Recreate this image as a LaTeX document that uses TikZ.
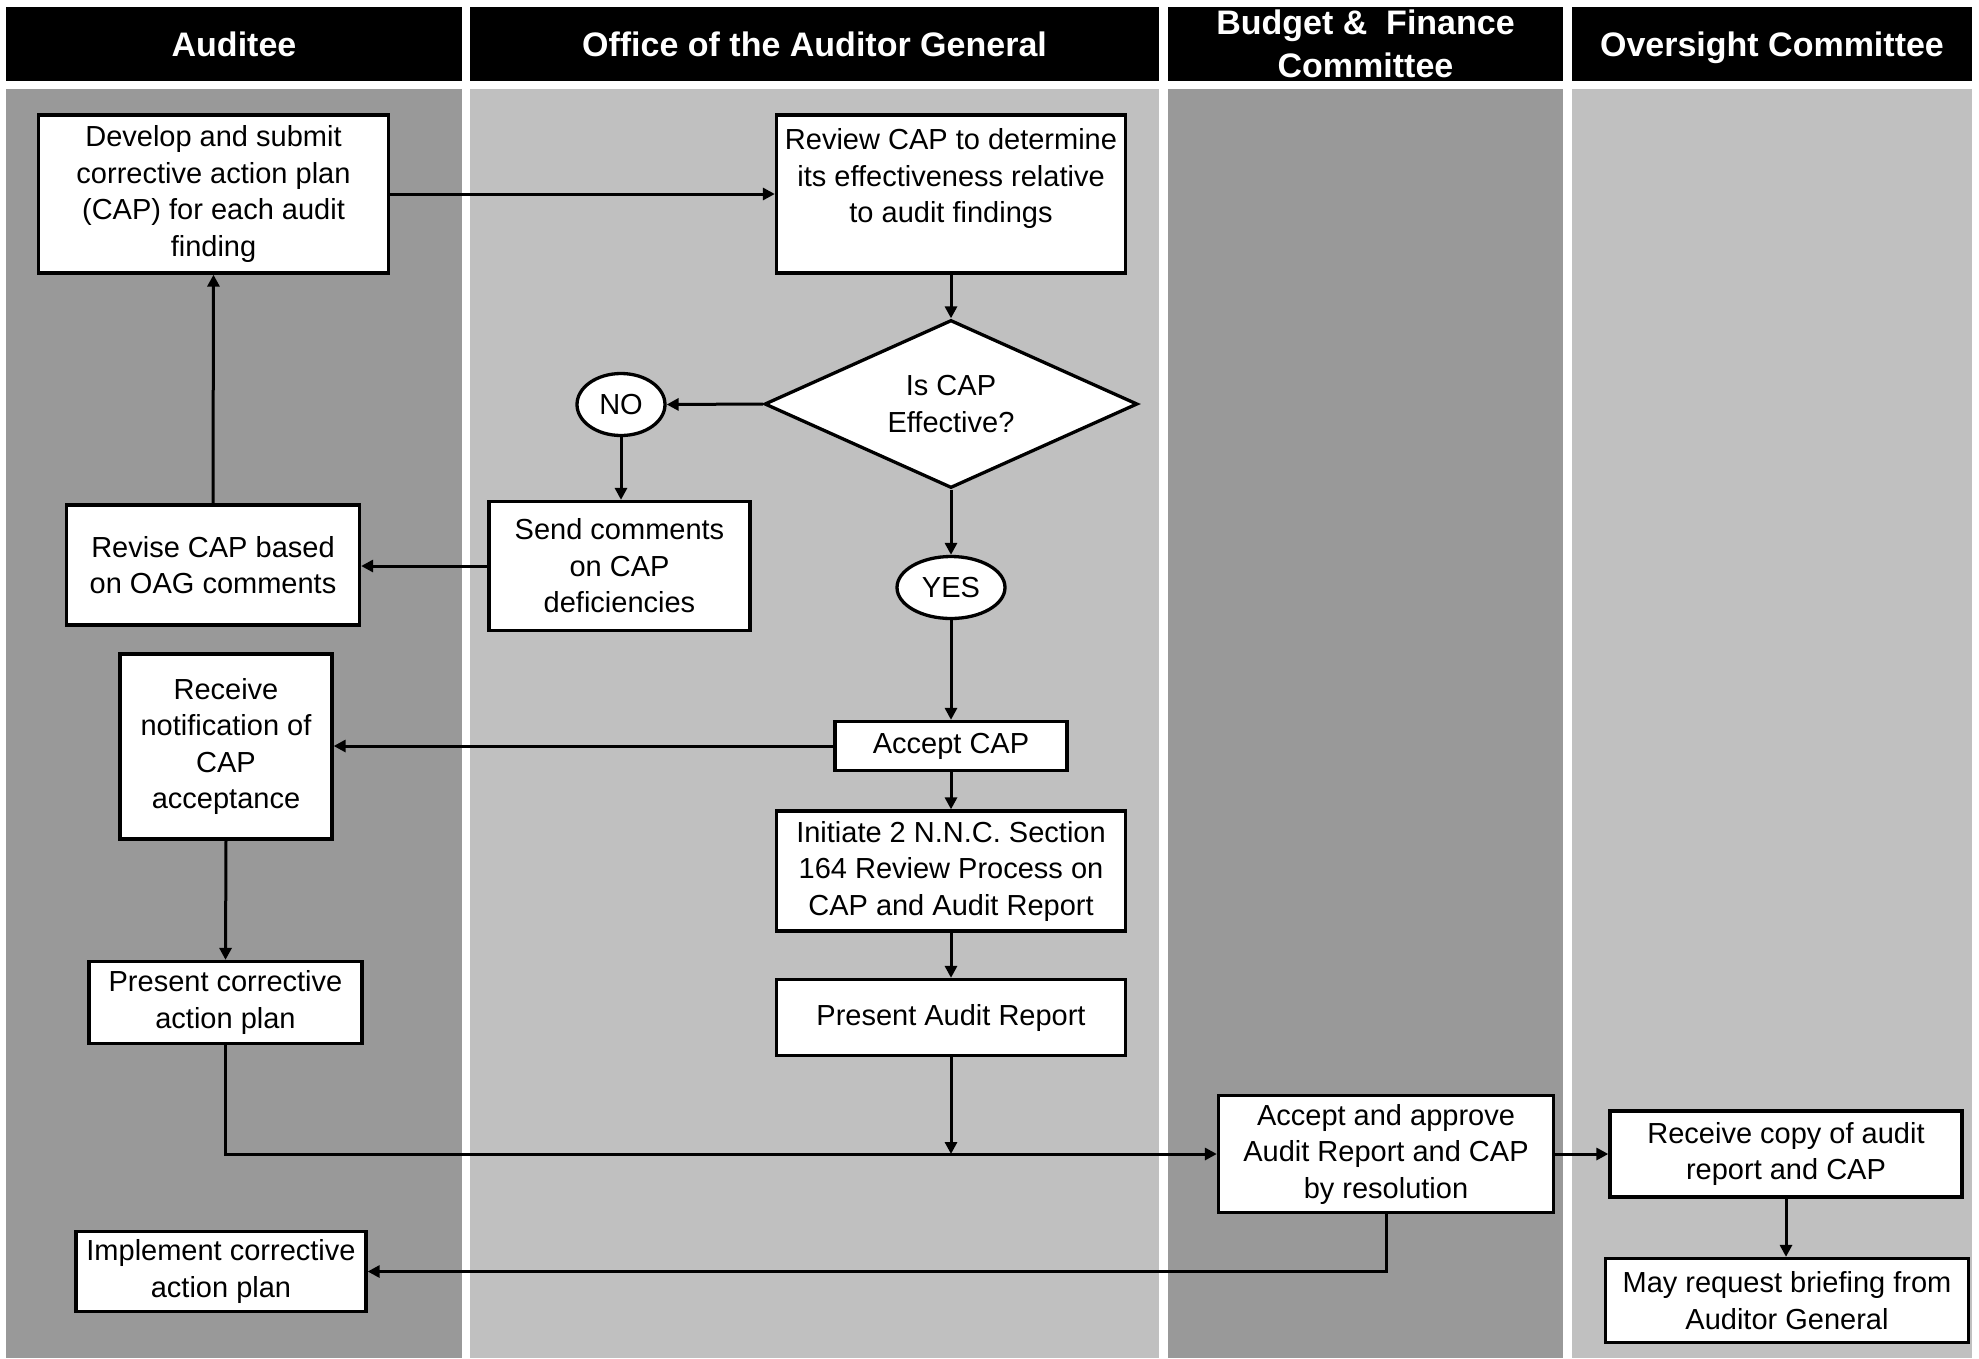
\documentclass[tikz,border=0pt]{standalone}
\usepackage{fontspec}
\setmainfont{Liberation Sans}
\usetikzlibrary{shapes.geometric,arrows.meta}
\definecolor{lanedark}{RGB}{153,153,153}
\definecolor{lanelight}{RGB}{192,192,192}
\begin{document}
\begin{tikzpicture}[x=1pt,y=-1pt,
  box/.style={draw=black,line width=3.3pt,fill=white,align=center,inner sep=0pt,
    font=\fontsize{29}{36.5}\selectfont},
  hdr/.style={fill=black,text=white,align=center,inner sep=0pt,minimum height=74pt,
    font=\fontsize{34}{43}\selectfont\bfseries},
  conn/.style={line width=3pt,-{Triangle[length=12pt,width=12pt]}},
]
\useasboundingbox (0,0) rectangle (1979,1358);
\fill[white] (0,0) rectangle (1979,1358);
% lanes
\fill[lanedark]  (6,89) rectangle (462,1358);
\fill[lanelight] (470,89) rectangle (1159,1358);
\fill[lanedark]  (1168,89) rectangle (1563,1358);
\fill[lanelight] (1572,89) rectangle (1972,1358);
% headers
\node[hdr,minimum width=456pt] (h1) at (234,44) {Auditee};
\node[hdr,minimum width=689pt] (h2) at (814.5,44) {Office of the Auditor General};
\node[hdr,minimum width=395pt] (h3) at (1365.5,44) {Budget \& ~Finance\\Committee};
\node[hdr,minimum width=400pt,text depth=0pt] (h4) at (1772,44) {Oversight Committee};
% nodes
\node[box,minimum width=350pt,minimum height=158pt] (dev) at (213.5,194) {Develop and submit\\corrective action plan\\(CAP) for each audit\\finding};
\node[box,minimum width=349pt,minimum height=158pt] (rev) at (951,194) {Review CAP to determine\\its effectiveness relative\\to audit findings\\\mbox{}};
\node[box,diamond,aspect=2.2,minimum width=373pt,minimum height=168pt] (dia) at (951,404) {Is CAP\\Effective?};
\node[box,ellipse,minimum width=88pt,minimum height=62pt] (no) at (621,404.5) {NO};
\node[box,minimum width=261pt,minimum height=129pt] (send) at (619.5,566) {Send comments\\on CAP\\deficiencies};
\node[box,minimum width=293pt,minimum height=120pt] (revise) at (213,565) {Revise CAP based\\on OAG comments};
\node[box,ellipse,minimum width=108pt,minimum height=62pt] (yes) at (951,587.5) {YES};
\node[box,minimum width=212pt,minimum height=185pt] (recv) at (226,746.5) {Receive\\notification of\\CAP\\acceptance};
\node[box,minimum width=232pt,minimum height=49pt] (acc) at (951,746) {Accept CAP};
\node[box,minimum width=349pt,minimum height=120pt] (init) at (951,871) {Initiate 2 N.N.C. Section\\164 Review Process on\\CAP and Audit Report};
\node[box,minimum width=349pt,minimum height=76pt] (pres) at (951,1017.5) {Present Audit Report};
\node[box,minimum width=273pt,minimum height=82pt] (pcor) at (225.5,1002.5) {Present corrective\\action plan};
\node[box,minimum width=335pt,minimum height=117pt] (appr) at (1386,1154) {Accept and approve\\Audit Report and CAP\\by resolution};
\node[box,minimum width=352pt,minimum height=86pt] (copy) at (1786,1154) {Receive copy of audit\\report and CAP};
\node[box,minimum width=363pt,minimum height=84pt] (req) at (1787,1300.5) {May request briefing from\\Auditor General};
\node[box,minimum width=290pt,minimum height=80pt] (impl) at (221,1271.5) {Implement corrective\\action plan};
% connectors
\draw[conn] (dev.east) -- (rev.west);
\draw[conn] (rev.south) -- (dia.north);
\draw[conn] (dia.west) -- (no.east);
\draw[conn] (no.south) -- (no.south |- send.north);
\draw[conn] (send.west) -- (send.west -| revise.east);
\draw[conn] (revise.north) -- (dev.south);
\draw[conn] (dia.south) -- (yes.north);
\draw[conn] (yes.south) -- (acc.north);
\draw[conn] (acc.west) -- (acc.west -| recv.east);
\draw[conn] (acc.south) -- (init.north);
\draw[conn] (init.south) -- (pres.north);
\draw[conn] (recv.south) -- (pcor.north);
\draw[conn] (pcor.south) |- (appr.west);
\draw[conn] (pres.south) -- (pres.south |- appr.west);
\draw[conn] (appr.east) -- (appr.east -| copy.west);
\draw[conn] (copy.south) -- (copy.south |- req.north);
\draw[conn] (appr.south) |- (impl.east);
\end{tikzpicture}
\end{document}
